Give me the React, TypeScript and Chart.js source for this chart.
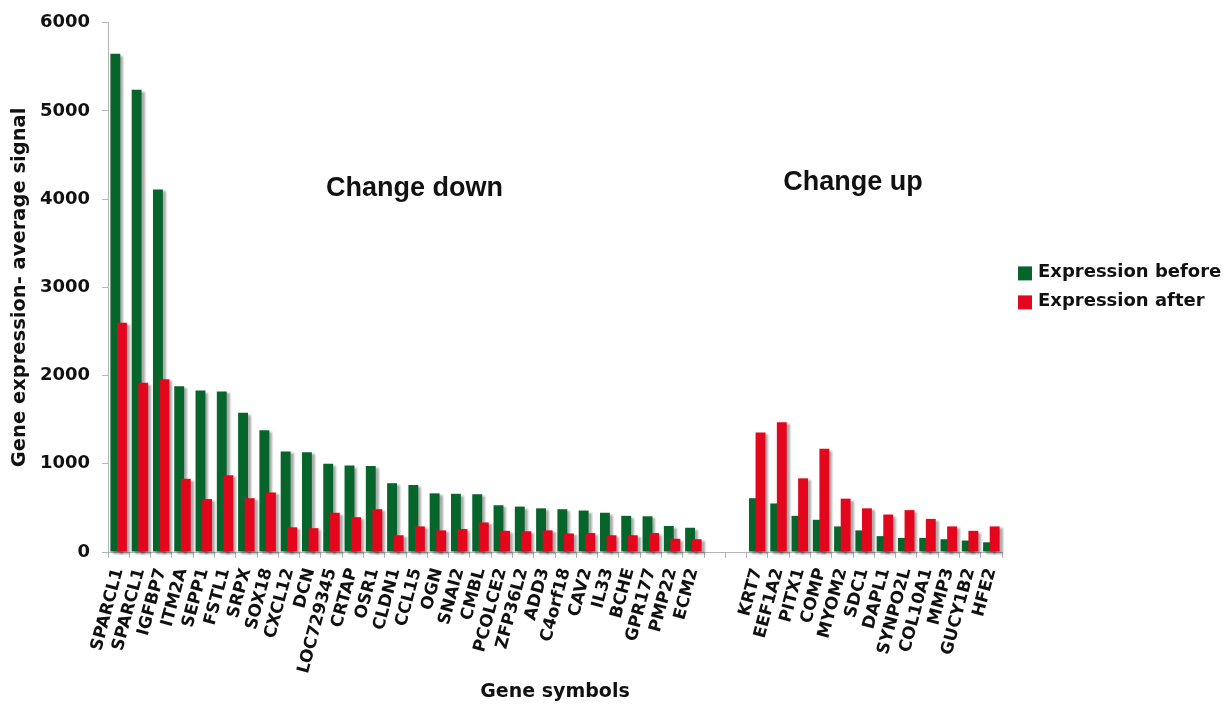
import React, { useEffect, useRef } from "react";
import { Chart, registerables } from "chart.js";

Chart.register(...registerables);

// Genes whose expression went down, in display order
const downGenes = [
  "SPARCL1", "SPARCL1", "IGFBP7", "ITM2A", "SEPP1", "FSTL1", "SRPX", "SOX18",
  "CXCL12", "DCN", "LOC729345", "CRTAP", "OSR1", "CLDN1", "CCL15", "OGN",
  "SNAI2", "CMBL", "PCOLCE2", "ZFP36L2", "ADD3", "C4orf18", "CAV2", "IL33",
  "BCHE", "GPR177", "PMP22", "ECM2",
];
const downBefore = [
  5650, 5240, 4110, 1880, 1830, 1820, 1580, 1380,
  1140, 1130, 1000, 980, 975, 780, 760, 665,
  660, 655, 530, 515, 495, 485, 470, 445,
  410, 405, 295, 275,
];
const downAfter = [
  2600, 1920, 1960, 830, 600, 870, 610, 675,
  280, 270, 445, 395, 485, 190, 290, 245,
  260, 335, 240, 235, 245, 210, 215, 190,
  190, 215, 150, 145,
];

// Genes whose expression went up
const upGenes = [
  "KRT7", "EEF1A2", "PITX1", "COMP", "MYOM2", "SDC1",
  "DAPL1", "SYNPO2L", "COL10A1", "MMP3", "GUCY1B2", "HFE2",
];
const upBefore = [610, 550, 410, 365, 290, 245, 180, 160, 160, 145, 130, 110];
const upAfter = [1355, 1470, 835, 1170, 605, 495, 425, 475, 375, 290, 240, 290];

// Two empty slots separate the groups
const gapSlots = ["", ""];
const gapValues = [null, null];

const seriesNames = ["Expression before", "Expression after"];
const seriesColors = ["#06652a", "#e4061c"];

const yTicks = { min: 0, max: 6000, step: 1000 };

const groupLabels = [
  { text: "Change down", index: 13.9, value: 4040 },
  { text: "Change up", index: 34.5, value: 4100 },
];

const labels = [...downGenes, ...gapSlots, ...upGenes];
const beforeValues = [...downBefore, ...gapValues, ...upBefore];
const afterValues = [...downAfter, ...gapValues, ...upAfter];

const AXIS_FONT = "'DejaVu Sans', Verdana, sans-serif";
const TEXT = "#111111";
const AXIS_GRAY = "#b4b4b4";

// Draws the bars in dataset order (later series on top) with a soft drop shadow
const shadowedBars = {
  id: "shadowedBars",
  beforeDatasetsDraw(chart: any) {
    const ctx = chart.ctx;
    ctx.save();
    ctx.shadowColor = "rgba(0,0,0,0.33)";
    ctx.shadowOffsetX = 3;
    ctx.shadowOffsetY = 2;
    ctx.shadowBlur = 2;
    chart.getSortedVisibleDatasetMetas().forEach((meta: any) => meta.controller.draw());
    ctx.restore();
    return false;
  },
};

// Group captions and the legend on the right
const captionsAndLegend = {
  id: "captionsAndLegend",
  afterDraw(chart: any) {
    const ctx = chart.ctx;
    const xs = chart.scales.x;
    const ys = chart.scales.y;
    const area = chart.chartArea;
    ctx.save();
    ctx.fillStyle = TEXT;
    ctx.font = "bold 27px 'Liberation Sans', Arial, sans-serif";
    ctx.textAlign = "center";
    ctx.textBaseline = "alphabetic";
    groupLabels.forEach((g) => {
      ctx.fillText(g.text, xs.getPixelForValue(g.index), ys.getPixelForValue(g.value));
    });

    const midY = (area.top + area.bottom) / 2;
    ctx.font = `bold 18px ${AXIS_FONT}`;
    ctx.textAlign = "left";
    ctx.textBaseline = "middle";
    chart.data.datasets.forEach((ds: any, i: number) => {
      const cy = midY - 14 + i * 29;
      const x0 = area.right + 16;
      ctx.fillStyle = ds.backgroundColor;
      ctx.fillRect(x0, cy - 7, 14, 14);
      ctx.fillStyle = TEXT;
      ctx.fillText(ds.label, x0 + 20, cy - 1);
    });
    ctx.restore();
  },
};

export default function App() {
  const canvasRef = useRef<HTMLCanvasElement | null>(null);

  useEffect(() => {
    if (!canvasRef.current) return;
    const chart = new Chart(canvasRef.current, {
      type: "bar",
      data: {
        labels,
        datasets: [
          {
            label: seriesNames[0],
            data: beforeValues,
            backgroundColor: seriesColors[0],
            borderWidth: 0,
          },
          {
            label: seriesNames[1],
            data: afterValues,
            backgroundColor: seriesColors[1],
            borderWidth: 0,
          },
        ],
      },
      options: {
        responsive: false,
        animation: false,
        events: [],
        layout: { padding: { top: 22, right: 221, bottom: 0, left: 0 } },
        datasets: {
          bar: { categoryPercentage: 0.62, barPercentage: 1.5 },
        },
        plugins: {
          legend: { display: false },
          tooltip: { enabled: false },
        },
        scales: {
          x: {
            type: "category",
            grid: {
              display: true,
              drawOnChartArea: false,
              drawTicks: true,
              tickLength: 6,
              color: AXIS_GRAY,
              offset: true,
            },
            border: { display: true, color: AXIS_GRAY, width: 1 },
            ticks: {
              autoSkip: false,
              minRotation: 75,
              maxRotation: 75,
              padding: 8,
              color: TEXT,
              font: { family: AXIS_FONT, size: 17, weight: "bold" },
            },
            title: {
              display: true,
              text: "Gene symbols",
              color: TEXT,
              font: { family: AXIS_FONT, size: 19, weight: "bold" },
              padding: { top: 0, bottom: 1 },
            },
            afterFit(scale: any) {
              scale.height = 152;
            },
          },
          y: {
            min: yTicks.min,
            max: yTicks.max,
            grid: {
              display: true,
              drawOnChartArea: false,
              drawTicks: true,
              tickLength: 6,
              color: AXIS_GRAY,
            },
            border: { display: true, color: AXIS_GRAY, width: 1 },
            ticks: {
              stepSize: yTicks.step,
              padding: 12,
              color: TEXT,
              font: { family: AXIS_FONT, size: 18, weight: "bold" },
              callback: (value: any) => String(value),
            },
            title: {
              display: true,
              text: "Gene expression- average signal",
              color: TEXT,
              font: { family: AXIS_FONT, size: 19.5, weight: "bold" },
              padding: { top: 8, bottom: 0 },
            },
            afterFit(scale: any) {
              scale.width = 108;
            },
          },
        },
      },
      plugins: [shadowedBars, captionsAndLegend],
    });
    return () => chart.destroy();
  }, []);

  return (
    <div style={{ position: "absolute", left: 0, top: 0, width: 1223, height: 704, background: "#ffffff" }}>
      <canvas ref={canvasRef} width={1223} height={704} style={{ display: "block" }} />
    </div>
  );
}
